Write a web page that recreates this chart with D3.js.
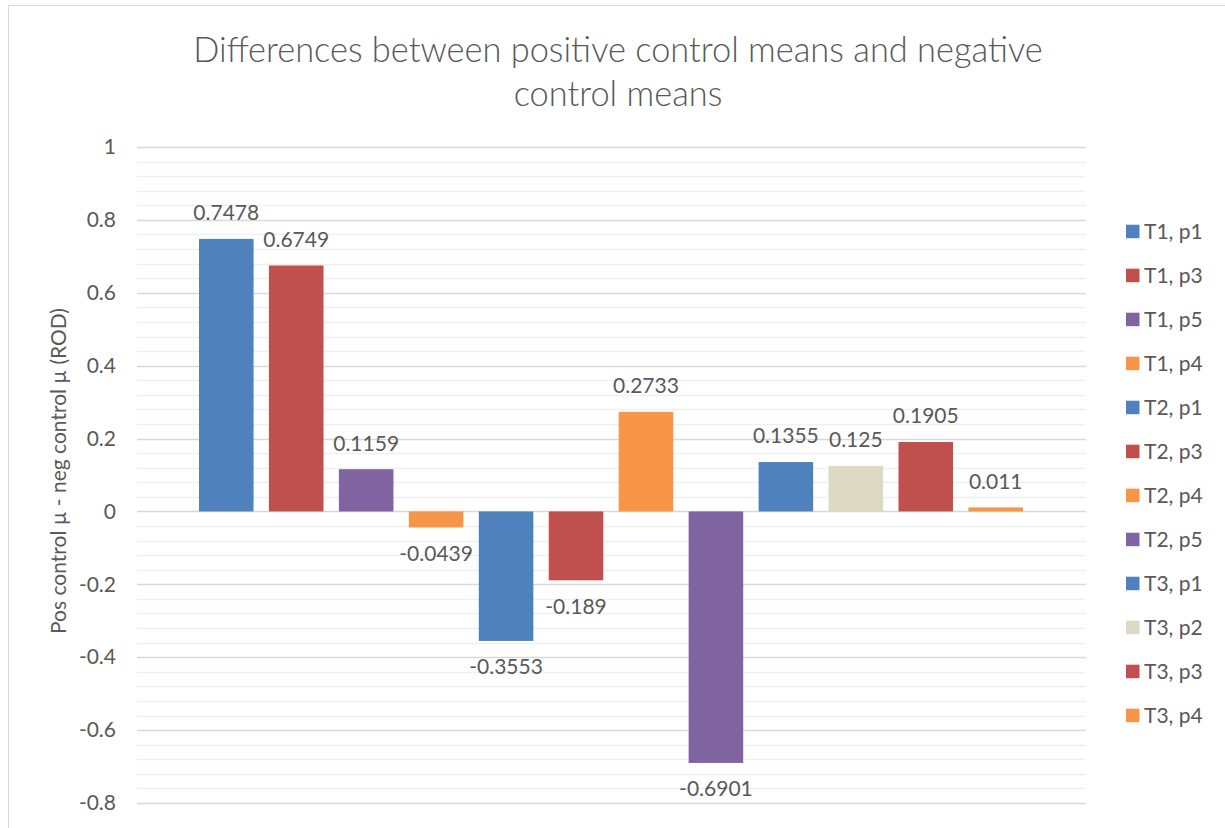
<!DOCTYPE html>
<html>
<head>
<meta charset="utf-8">
<script src="https://cdn.jsdelivr.net/npm/d3@7"></script>
<style>
body{margin:0;background:#fff;}
text{font-family:Lato,"Open Sans",sans-serif;fill:#595959;}
</style>
</head>
<body>
<script>
var w=1225;
var h=828;

// data
var categories=["T1, p1","T1, p3","T1, p5","T1, p4","T2, p1","T2, p3","T2, p4","T2, p5","T3, p1","T3, p2","T3, p3","T3, p4"];
var values=[0.7478,0.6749,0.1159,-0.0439,-0.3553,-0.189,0.2733,-0.6901,0.1355,0.125,0.1905,0.011];
var colors=["#4F81BD","#C0504D","#8064A2","#F79646","#4F81BD","#C0504D","#F79646","#8064A2","#4F81BD","#DDD9C3","#C0504D","#F79646"];
var majorTicks=[1,0.8,0.6,0.4,0.2,0,-0.2,-0.4,-0.6,-0.8];
var titleLines=["Differences between positive control means and negative","control means"];
var yTitle="Pos control \u00b5 - neg control \u00b5 (ROD)";

var plot={left:137,right:1086,top:147,bottom:803};

var svg=d3.select("body").append("svg")
	.attr("width",w)
	.attr("height",h);

// outer frame
svg.append("rect")
	.attr("x",8.5).attr("y",5.5)
	.attr("width",w+20).attr("height",h+20)
	.attr("fill","none")
	.attr("stroke","#d9d9d9");

var y=d3.scaleLinear().domain([-0.8,1]).range([plot.bottom,plot.top]);

var x=d3.scaleBand()
	.domain(categories)
	.range([plot.left+62,plot.right-63])
	.paddingInner(0.22)
	.paddingOuter(0);

// minor gridlines every 0.04
var minor=d3.range(0,46).map(function(i){return +(-0.8+i*0.04).toFixed(2);})
	.filter(function(d){return Math.abs(d*5-Math.round(d*5))>1e-6;});

svg.append("g").selectAll("line")
	.data(minor)
	.enter().append("line")
	.attr("x1",plot.left).attr("x2",plot.right)
	.attr("y1",function(d){return Math.round(y(d))+0.5;})
	.attr("y2",function(d){return Math.round(y(d))+0.5;})
	.attr("stroke","#f0f0f0")
	.attr("stroke-width",1.5);

svg.append("g").selectAll("line")
	.data(majorTicks)
	.enter().append("line")
	.attr("x1",plot.left).attr("x2",plot.right)
	.attr("y1",function(d){return Math.round(y(d))+0.5;})
	.attr("y2",function(d){return Math.round(y(d))+0.5;})
	.attr("stroke","#d9d9d9")
	.attr("stroke-width",1.5);

// y axis labels
var yAxis=d3.axisLeft(y)
	.tickValues(majorTicks)
	.tickSize(0)
	.tickPadding(21)
	.tickFormat(function(d){return String(+d.toFixed(1));});

var ax=svg.append("g")
	.attr("transform","translate("+plot.left+",0)")
	.call(yAxis);
ax.select(".domain").remove();
ax.selectAll("text")
	.attr("font-family","Lato, 'Open Sans', sans-serif")
	.attr("font-size",21)
	.attr("fill","#595959");

// bars
svg.append("g").selectAll("rect")
	.data(values)
	.enter().append("rect")
	.attr("x",function(d,i){return x(categories[i]);})
	.attr("width",x.bandwidth())
	.attr("y",function(d){return y(Math.max(0,d));})
	.attr("height",function(d){return Math.abs(y(d)-y(0));})
	.attr("fill",function(d,i){return colors[i];});

// data labels
svg.append("g").selectAll("text")
	.data(values)
	.enter().append("text")
	.attr("x",function(d,i){return x(categories[i])+x.bandwidth()/2;})
	.attr("y",function(d){return y(d)+(d>=0?-26:26);})
	.attr("dy","0.35em")
	.attr("text-anchor","middle")
	.attr("font-size",21)
	.text(function(d){return String(d);});

// title
var title=svg.append("g");
title.selectAll("text")
	.data(titleLines)
	.enter().append("text")
	.attr("x",618)
	.attr("y",function(d,i){return 62+i*44;})
	.attr("text-anchor","middle")
	.attr("font-size",34)
	.attr("font-weight",300)
	.text(function(d){return d;});
// fit first line to reference width
var t0=title.select("text").node();
var fs=34*850/t0.getComputedTextLength();
title.selectAll("text").attr("font-size",fs);

// y axis title
svg.append("text")
	.attr("transform","translate(66,471) rotate(-90)")
	.attr("text-anchor","middle")
	.attr("font-size",21)
	.text(yTitle);

// legend
var leg=svg.append("g").selectAll("g")
	.data(categories)
	.enter().append("g")
	.attr("transform",function(d,i){return "translate(1126,"+(231.7+i*44)+")";});

leg.append("rect")
	.attr("x",0).attr("y",-7)
	.attr("width",13.5).attr("height",13.5)
	.attr("fill",function(d,i){return colors[i];});

leg.append("text")
	.attr("x",18)
	.attr("y",0)
	.attr("dy","0.35em")
	.attr("font-size",21)
	.text(function(d){return d;});
</script>
</body>
</html>
